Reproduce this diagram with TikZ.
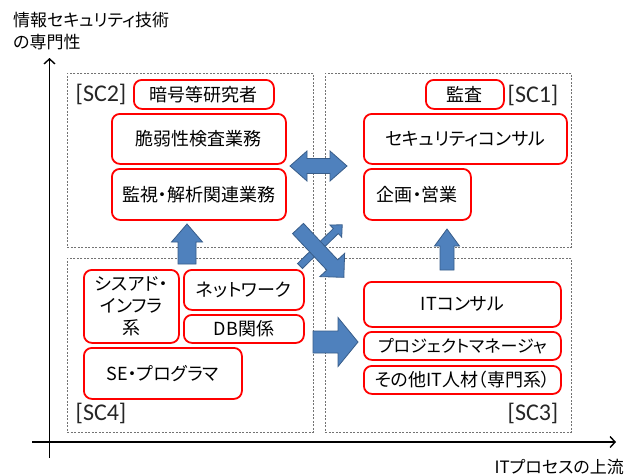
\documentclass[tikz,border=0pt]{standalone}
\usepackage{fontspec}
\setmainfont{Carlito}
\newfontfamily\jp{Noto Sans CJK JP}[RawFeature=+palt]
\usetikzlibrary{arrows.meta}
\definecolor{arrowblue}{HTML}{4F81BD}
\definecolor{arrowedge}{HTML}{385D8A}
\begin{document}
\begin{tikzpicture}[x=1pt,y=-1pt,
  rbox/.style={draw=red, line width=1.8pt, rounded corners=8pt, fill=white, inner sep=0pt,
    anchor=north west, font=\jp\fontsize{18}{22}\selectfont, align=center},
  smalltext/.style={font=\jp\fontsize{17}{22}\selectfont},
  quad/.style={draw=black!55, dash pattern=on 2pt off 1.5pt, line width=0.7pt, inner sep=0pt, anchor=north west},
  sclabel/.style={font=\fontsize{24}{28}\selectfont, text=black!85, inner sep=0pt},
  axislabel/.style={font=\jp\fontsize{17}{22}\selectfont, inner sep=0pt},
  axisline/.style={line width=1.8pt, -{Straight Barb[length=5pt,width=11pt,line width=1.4pt]}},
  barrow/.style={fill=arrowblue, draw=arrowedge, line width=0.8pt, line join=miter},
  pics/blockarr/.style n args={4}{code={
    \draw[barrow] (0,-#2) -- ({#1-#4},-#2) -- ({#1-#4},-#3) -- (#1,0) -- ({#1-#4},#3) -- ({#1-#4},#2) -- (0,#2) -- cycle;}},
  pics/dblarr/.style n args={4}{code={
    \draw[barrow] (-#1,0) -- ({-#1+#4},-#3) -- ({-#1+#4},-#2) -- ({#1-#4},-#2) -- ({#1-#4},-#3) -- (#1,0)
      -- ({#1-#4},#3) -- ({#1-#4},#2) -- ({-#1+#4},#2) -- ({-#1+#4},#3) -- cycle;}}
]
\useasboundingbox (0,0) rectangle (637,475);
\fill[white] (0,0) rectangle (637,475);

% quadrants
\node[quad, minimum width=246, minimum height=174] (q2) at (67,73) {};
\node[quad, minimum width=246, minimum height=174] (q1) at (325,73) {};
\node[quad, minimum width=246, minimum height=174] (q4) at (67,258) {};
\node[quad, minimum width=246, minimum height=174] (q3) at (325,258) {};

\node[sclabel] (sc2) at (101,94) {[SC2]};
\node[sclabel] (sc1) at (533,95) {[SC1]};
\node[sclabel] (sc4) at (101,413) {[SC4]};
\node[sclabel] (sc3) at (533,413) {[SC3]};

% axes
\coordinate (yb) at (49.5,458);
\coordinate (yt) at (49.5,58);
\coordinate (xl) at (32,442);
\coordinate (xr) at (616,442);
\draw[axisline] (yb) -- (yt);
\draw[axisline] (xl) -- (xr);
\node[axislabel, anchor=west, align=left] (ylab) at (13,31) {情報セキュリティ技術\\の専門性};
\node[axislabel, anchor=east] (xlab) at (624,467) {ITプロセスの上流};

% blue block arrows
\pic[rotate=90] at (187,264) {blockarr={40}{9}{15.5}{18}};
\pic[rotate=90] at (447,270) {blockarr={41}{7}{12.5}{17}};
\pic at (318.5,166) {dblarr={28.5}{7.5}{15}{17}};
\pic at (313,342) {blockarr={45}{11}{24.5}{20}};
\pic[rotate=44.3] at (300,266) {blockarr={59}{3.5}{8.5}{9}};
\pic[rotate=-46.8] at (298,228.5) {blockarr={67}{7.5}{17}{17}};

% SC2
\node[rbox, minimum width=140, minimum height=29] (angou) at (133,79) {暗号等研究者};
\node[rbox, minimum width=174, minimum height=50] (zeijaku) at (111,113) {脆弱性検査業務};
\node[rbox, minimum width=174, minimum height=51] (kanshi) at (111,168) {監視・解析関連業務};
% SC1
\node[rbox, minimum width=78, minimum height=29] (kansa) at (425,79) {監査};
\node[rbox, minimum width=203, minimum height=50] (seccon) at (363,113) {セキュリティコンサル};
\node[rbox, minimum width=107, minimum height=51] (kikaku) at (363,168) {企画・営業};
% SC4
\node[rbox, minimum width=95, minimum height=73] (sysad) at (83,269) {シスアド・\\インフラ\\系};
\node[rbox, minimum width=120, minimum height=40] (network) at (183,269) {ネットワーク};
\node[rbox, minimum width=120, minimum height=28] (db) at (183,314) {DB関係};
\node[rbox, minimum width=158, minimum height=51] (se) at (83,347) {SE・プログラマ};
% SC3
\node[rbox, minimum width=197, minimum height=45] (itcon) at (363,281) {ITコンサル};
\node[rbox, smalltext, minimum width=197, minimum height=28] (pm) at (363,331) {プロジェクトマネージャ};
\node[rbox, minimum width=197, minimum height=28] (other) at (363,365) {その他IT人材（専門系）};
\end{tikzpicture}
\end{document}
